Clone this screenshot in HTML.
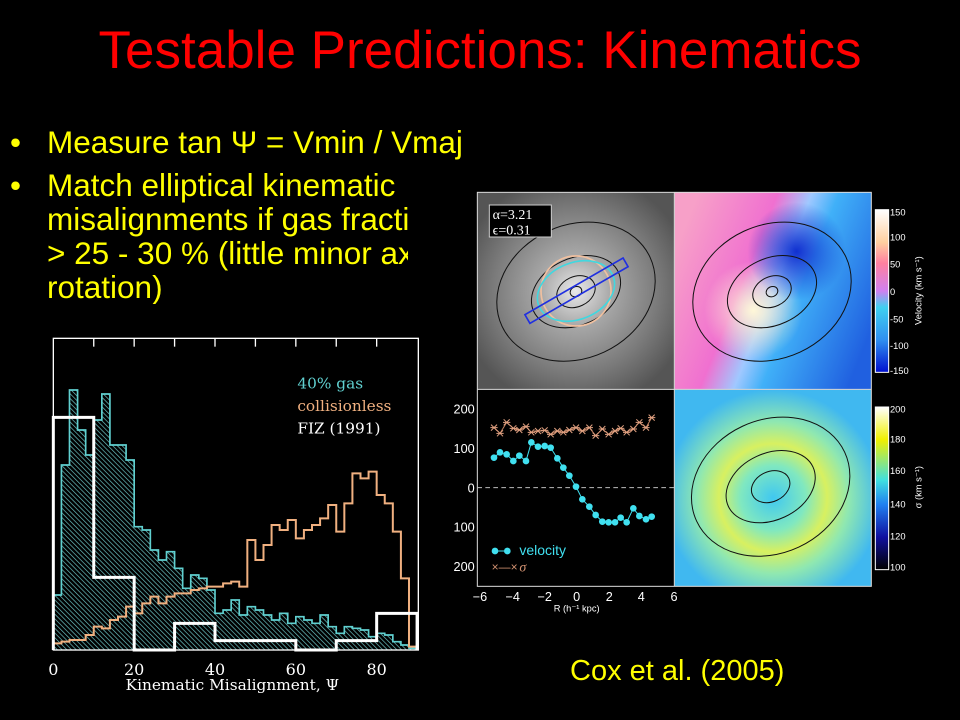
<!DOCTYPE html>
<html><head><meta charset="utf-8"><style>
html,body{margin:0;padding:0;background:#000;}
body{width:960px;height:720px;position:relative;overflow:hidden;font-family:"Liberation Sans",Arial,sans-serif;}
.t{position:absolute;white-space:nowrap;color:#ffff00;}
#title{left:0;width:960px;text-align:center;top:20px;font-size:53px;color:#ff0000;}
.b{font-size:31.5px;line-height:34px;}
</style></head><body>
<div id="title" class="t">Testable Predictions: Kinematics</div>
<div class="t b" style="left:10px;top:125px">•</div>
<div class="t b" style="left:47px;top:125px">Measure tan Ψ = Vmin / Vmaj</div>
<div class="t b" style="left:10px;top:168px">•</div>
<div class="t b" style="left:47px;top:168px;width:361px;overflow:hidden">Match elliptical kinematic<br>misalignments if gas fraction<br>&gt; 25 - 30 % (little minor axis<br>rotation)</div>
<div class="t" style="left:570px;top:655px;font-size:29px">Cox et al. (2005)</div>
<svg id="s" width="960" height="720" style="position:absolute;left:0;top:0" xmlns="http://www.w3.org/2000/svg">
<defs>
<pattern id="hatch" patternUnits="userSpaceOnUse" width="10" height="10" patternTransform="rotate(-45)">
<rect width="10" height="10" fill="#000"/><line x1="0" y1="0" x2="0" y2="10" stroke="#6fc8c8" stroke-width="4"/></pattern>
<radialGradient id="gray" cx="50%" cy="50%" r="60%"><stop offset="0" stop-color="#e8e8e8"/><stop offset="0.3" stop-color="#a8a8a8"/><stop offset="0.7" stop-color="#7a7a7a"/><stop offset="1" stop-color="#555"/></radialGradient>
<linearGradient id="vel" x1="0" y1="0.3" x2="1" y2="0.7"><stop offset="0" stop-color="#f7a0c8"/><stop offset="0.35" stop-color="#f070d0"/><stop offset="0.5" stop-color="#a0c8ff"/><stop offset="0.62" stop-color="#40b0f8"/><stop offset="1" stop-color="#2060e0"/></linearGradient>
<radialGradient id="velw" cx="40%" cy="60%" r="25%"><stop offset="0" stop-color="#fff8d8" stop-opacity="1"/><stop offset="1" stop-color="#fff0d0" stop-opacity="0"/></radialGradient>
<radialGradient id="velb" cx="62%" cy="30%" r="25%"><stop offset="0" stop-color="#1030d0" stop-opacity="1"/><stop offset="1" stop-color="#1030d0" stop-opacity="0"/></radialGradient>
<radialGradient id="sig" cx="50%" cy="55%" r="55%"><stop offset="0" stop-color="#40c8f0"/><stop offset="0.3" stop-color="#80e8c0"/><stop offset="0.5" stop-color="#d8f060"/><stop offset="0.7" stop-color="#90e8b0"/><stop offset="1" stop-color="#40b8f0"/></radialGradient>
<linearGradient id="cb1" x1="0" y1="0" x2="0" y2="1"><stop offset="0" stop-color="#fff"/><stop offset="0.2" stop-color="#ffd0a0"/><stop offset="0.33" stop-color="#ff80a0"/><stop offset="0.5" stop-color="#d080f0"/><stop offset="0.6" stop-color="#40d0f0"/><stop offset="0.8" stop-color="#3090f0"/><stop offset="1" stop-color="#0010d0"/></linearGradient>
<linearGradient id="cb2" x1="0" y1="0" x2="0" y2="1"><stop offset="0" stop-color="#fff"/><stop offset="0.2" stop-color="#f0f000"/><stop offset="0.45" stop-color="#40e0e0"/><stop offset="0.6" stop-color="#2080f0"/><stop offset="0.8" stop-color="#1010a0"/><stop offset="1" stop-color="#000"/></linearGradient>
</defs>
<g id="hist" transform="translate(20,330) scale(0.33333)" font-family="'DejaVu Serif','Liberation Serif',serif">
</g>
<g transform="translate(450,185) scale(0.33333)">
<rect x="82" y="22" width="590" height="590" fill="url(#gray)"/>
<rect x="674" y="22" width="590" height="590" fill="url(#vel)"/>
<rect x="674" y="22" width="590" height="590" fill="url(#velw)"/>
<rect x="674" y="22" width="590" height="590" fill="url(#velb)"/>
<rect x="674" y="614" width="590" height="590" fill="url(#sig)"/>
<rect x="82" y="614" width="590" height="590" fill="#000"/>
<g fill="none" stroke="#111" stroke-width="3">
<g transform="translate(378,320) rotate(-25)"><ellipse rx="245" ry="200"/><ellipse rx="140" ry="100"/><ellipse rx="60" ry="45"/><ellipse rx="18" ry="15"/></g>
<g transform="translate(966,320) rotate(-25)"><ellipse rx="245" ry="200"/><ellipse rx="140" ry="100"/><ellipse rx="60" ry="45"/><ellipse rx="18" ry="15"/></g>
<g transform="translate(962,905) rotate(-25)"><ellipse rx="245" ry="200"/><ellipse rx="140" ry="100"/><ellipse rx="60" ry="45"/></g>
</g>
<circle cx="378" cy="318" r="105" fill="none" stroke="#f0c0a0" stroke-width="5"/>
<ellipse cx="378" cy="318" rx="120" ry="85" transform="rotate(-22 378 318)" fill="none" stroke="#40d8e0" stroke-width="5"/>
<rect x="210" y="302" width="340" height="30" transform="rotate(-30 380 318)" fill="none" stroke="#2030e0" stroke-width="5"/>
<rect x="118" y="60" width="186" height="96" fill="#000" stroke="#ccc" stroke-width="3"/>
<text x="128" y="102" fill="#fff" font-size="42" font-family="'Liberation Serif',serif">α=3.21</text>
<text x="128" y="148" fill="#fff" font-size="42" font-family="'Liberation Serif',serif">ϵ=0.31</text>
<g fill="none" stroke="#ddd" stroke-width="3"><rect x="82" y="22" width="1182" height="1182"/><line x1="673" y1="22" x2="673" y2="1204"/><line x1="82" y1="613" x2="1264" y2="613"/></g>
<rect x="1276" y="74" width="40" height="488" fill="url(#cb1)" stroke="#fff" stroke-width="3"/>
<rect x="1276" y="666" width="40" height="488" fill="url(#cb2)" stroke="#fff" stroke-width="3"/>
<g fill="#fff" font-size="28" font-family="'Liberation Sans',sans-serif">
<text x="1320" y="92">150</text><text x="1320" y="167">100</text><text x="1320" y="247">50</text><text x="1320" y="330">0</text><text x="1320" y="412">-50</text><text x="1320" y="492">-100</text><text x="1320" y="567">-150</text>
<text x="1320" y="682">200</text><text x="1320" y="772">180</text><text x="1320" y="867">160</text><text x="1320" y="967">140</text><text x="1320" y="1064">120</text><text x="1320" y="1157">100</text>
<text transform="translate(1415,420) rotate(-90)">Velocity (km s⁻¹)</text>
<text transform="translate(1415,970) rotate(-90)">σ (km s⁻¹)</text>
</g>
<g fill="#fff" font-size="38" font-family="'Liberation Sans',sans-serif" text-anchor="end">
<text x="74" y="686">200</text><text x="74" y="804">100</text><text x="74" y="922">0</text><text x="74" y="1040">100</text><text x="74" y="1158">200</text>
</g>
<g fill="#fff" font-size="38" font-family="'Liberation Sans',sans-serif" text-anchor="middle">
<text x="90" y="1248">−6</text><text x="188" y="1248">−4</text><text x="284" y="1248">−2</text><text x="380" y="1248">0</text><text x="478" y="1248">2</text><text x="574" y="1248">4</text><text x="672" y="1248">6</text>
<text x="380" y="1280" font-size="28">R (h⁻¹ kpc)</text>
</g>
<line x1="82" y1="908" x2="672" y2="908" stroke="#bbb" stroke-width="3" stroke-dasharray="14,10"/>
<g id="prof"></g>
<circle cx="135" cy="1098" r="10" fill="#40e0f0"/><circle cx="172" cy="1098" r="10" fill="#40e0f0"/><line x1="135" y1="1098" x2="172" y2="1098" stroke="#40e0f0" stroke-width="3"/>
<text x="208" y="1110" fill="#40e0f0" font-size="42" font-family="'Liberation Sans',sans-serif">velocity</text>
<text x="125" y="1158" fill="#d09070" font-size="36">×—×</text>
<text x="208" y="1160" fill="#d09070" font-size="42" font-style="italic" font-family="'Liberation Serif',serif">σ</text>
</g>
</svg>
<script>
var NS="http://www.w3.org/2000/svg";
function el(p,t,a){var e=document.createElementNS(NS,t);for(var k in a)e.setAttribute(k,a[k]);p.appendChild(e);return e;}
var h=document.getElementById("hist");
function X(d){return 100+d*12.125;}
var B=960;
var cy=[795,405,180,300,375,270,192,345,345,390,590,600,660,690,665,715,775,735,745,780,850,840,810,855,830,840,855,870,850,880,860,870,880,855,890,910,890,895,900,920,910,915,935,945,955];
var oy=[940,935,930,930,915,890,895,870,860,830,850,820,800,820,800,790,790,780,775,770,770,760,755,770,630,690,645,585,600,570,625,600,585,565,525,605,520,430,445,425,495,520,605,745,950];
function step(arr,w){var d="M"+X(0)+","+B;for(var i=0;i<arr.length;i++){d+=" L"+X(i*w)+","+arr[i]+" L"+X((i+1)*w)+","+arr[i];}d+=" L"+X(arr.length*w)+","+B;return d;}
el(h,"path",{d:step(cy,2)+" Z",fill:"url(#hatch)",stroke:"none"});
el(h,"path",{d:step(cy,2),fill:"none",stroke:"#60d0d0","stroke-width":5});
el(h,"path",{d:step(oy,2),fill:"none",stroke:"#f0b080","stroke-width":6});
var fz=[262,742,960,880,932,932,960,932,850];
el(h,"path",{d:step(fz,10),fill:"none",stroke:"#fff","stroke-width":9});
el(h,"rect",{x:100,y:25,width:1095,height:935,fill:"none",stroke:"#fff","stroke-width":4});
for(var d=10;d<90;d+=10){el(h,"line",{x1:X(d),y1:25,x2:X(d),y2:50,stroke:"#fff","stroke-width":4});}
[0,20,40,60,80].forEach(function(d){var t=el(h,"text",{x:X(d),y:1035,fill:"#fff","font-size":48,"text-anchor":"middle"});t.textContent=d;});
var t=el(h,"text",{x:637,y:1080,fill:"#fff","font-size":46,"text-anchor":"middle"});t.textContent="Kinematic Misalignment, Ψ";
[["40% gas","#60d0d0",175],["collisionless","#f0b080",243],["FIZ (1991)","#fff",310]].forEach(function(a){var t=el(h,"text",{x:832,y:a[2],fill:a[1],"font-size":46});t.textContent=a[0];});
var p=document.getElementById("prof");
var v=[[132,818],[150,802],[170,808],[190,828],[208,812],[228,828],[244,772],[264,785],[284,783],[302,788],[322,820],[340,848],[358,872],[378,905],[397,943],[418,965],[437,990],[457,1010],[476,1012],[495,1012],[512,998],[530,1012],[550,970],[568,993],[588,1003],[605,995]];
var sy=[728,745,712,730,735,725,742,738,736,748,738,742,735,728,738,728,752,732,748,738,730,742,732,712,728,698];
var sd="",vd="";
for(var i=0;i<v.length;i++){vd+=(i?"L":"M")+v[i][0]+","+v[i][1];sd+=(i?"L":"M")+v[i][0]+","+sy[i];}
el(p,"path",{d:sd,fill:"none",stroke:"#c08060","stroke-width":3});
for(var i=0;i<v.length;i++){var x=v[i][0],y=sy[i];el(p,"path",{d:"M"+(x-9)+","+(y-9)+"L"+(x+9)+","+(y+9)+"M"+(x-9)+","+(y+9)+"L"+(x+9)+","+(y-9)+"M"+(x-11)+","+y+"L"+(x+11)+","+y,stroke:"#e0a080","stroke-width":3});}
el(p,"path",{d:vd,fill:"none",stroke:"#40e0f0","stroke-width":3});
for(var i=0;i<v.length;i++)el(p,"circle",{cx:v[i][0],cy:v[i][1],r:10,fill:"#40e0f0"});
</script>
</body></html>
